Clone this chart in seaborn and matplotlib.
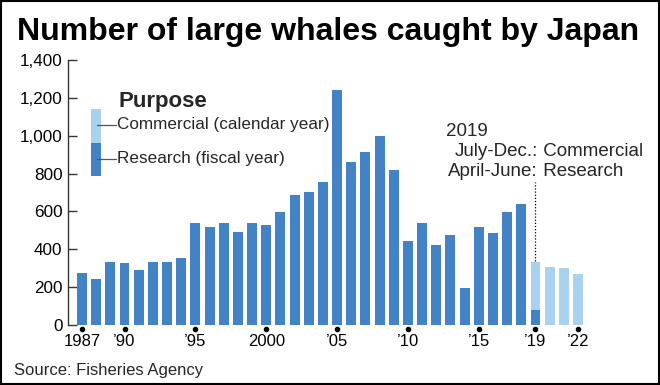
import matplotlib
matplotlib.use("Agg")
import matplotlib.pyplot as plt
from matplotlib import font_manager
from matplotlib.patches import Rectangle
import matplotlib.transforms as mtransforms
import numpy as np
import pandas as pd
import seaborn as sns

# ---- data ----
years = list(range(1987, 2023))
research = [275, 243, 331, 328, 289, 331, 331, 352, 541, 518, 539, 490, 539, 528,
            599, 685, 701, 754, 1240, 859, 912, 1000, 821, 446, 539, 423, 477, 197,
            520, 488, 597, 639, 81, 0, 0, 0]
commercial = [0] * 32 + [254, 308, 303, 271]
tick_years = [1987, 1990, 1995, 2000, 2005, 2010, 2015, 2019, 2022]
tick_labels = ["1987", "\u201990", "\u201995", "2000", "\u201905", "\u201910", "\u201915", "\u201919", "\u201922"]
y_ticks = [0, 200, 400, 600, 800, 1000, 1200, 1400]

dark = "#4482c6"
light = "#a8d2f0"

sns.set_theme(style="white")
names = {f.name for f in font_manager.fontManager.ttflist}
base = "Liberation Sans" if "Liberation Sans" in names else "DejaVu Sans"
plt.rcParams["font.family"] = [base, "DejaVu Sans"]

W, H = 660, 385
fig = plt.figure(figsize=(W / 100, H / 100), dpi=100)
fig.patch.set_facecolor("white")

def fx(px):
    return px / W

def fy(py):
    return 1 - py / H

ax_l, ax_r, ax_t, ax_b = 68, 600, 60, 325
ax = fig.add_axes([fx(ax_l), fy(ax_b), (ax_r - ax_l) / W, (ax_b - ax_t) / H])

df = pd.DataFrame({
    "year": [str(y) for y in years],
    "research": research,
    "total": [r + c for r, c in zip(research, commercial)],
})
sns.barplot(data=df, x="year", y="total", color=light, saturation=1, width=0.7,
            linewidth=0, edgecolor="none", ax=ax)
sns.barplot(data=df, x="year", y="research", color=dark, saturation=1, width=0.7,
            linewidth=0, edgecolor="none", ax=ax)

spacing = (578 - 82) / 35
xl = -(82 - ax_l) / spacing
ax.set_xlim(xl, xl + (ax_r - ax_l) / spacing)
ax.set_ylim(0, 1400)

for s in ["top", "right", "bottom"]:
    ax.spines[s].set_visible(False)
ax.spines["left"].set_color("#333333")
ax.spines["left"].set_linewidth(1.0)

ax.set_yticks(y_ticks)
ax.set_yticklabels([f"{v:,}" for v in y_ticks], fontsize=12.3, color="black")
ax.tick_params(axis="y", direction="in", length=6.5, width=1.0, color="#333333", pad=4, left=True)

pos = [years.index(y) for y in tick_years]
ax.set_xticks(pos)
ax.set_xticklabels(tick_labels, fontsize=12, color="black")
ax.tick_params(axis="x", length=0, pad=6.5)
ax.set_xlabel("")
ax.set_ylabel("")

trans = mtransforms.blended_transform_factory(ax.transData, ax.transAxes)
ax.scatter(pos, [-0.016] * len(pos), s=9, color="black", transform=trans, clip_on=False, zorder=5)

# dotted leader for 2019
i19 = years.index(2019)
ax.plot([i19, i19], [research[i19] + commercial[i19] + 5, 755], ls=(0, (1, 1.5)),
        color="black", lw=0.9, clip_on=False)

# title
fig.text(fx(328), fy(28.5), "Number of large whales caught by Japan", ha="center", va="center_baseline",
         fontsize=23, fontweight="bold", color="black")

# legend
fig.text(fx(118), fy(102), "Purpose", ha="left", va="center", fontsize=16, fontweight="bold")
fig.patches.append(Rectangle((fx(91), fy(143)), 10 / W, 34 / H, transform=fig.transFigure,
                             facecolor=light, edgecolor="none"))
fig.patches.append(Rectangle((fx(91), fy(176)), 10 / W, 33 / H, transform=fig.transFigure,
                             facecolor=dark, edgecolor="none"))
for yy, txt in [(125, "Commercial (calendar year)"), (159, "Research (fiscal year)")]:
    fig.add_artist(plt.Line2D([fx(97), fx(116)], [fy(yy), fy(yy)], color="#555555", lw=0.9,
                              transform=fig.transFigure))
    fig.text(fx(117), fy(yy), txt, ha="left", va="center", fontsize=12.3)

# annotation
fig.text(fx(446), fy(131), "2019", ha="left", va="center", fontsize=13.5)
fig.text(fx(538), fy(151), "July-Dec.:", ha="right", va="center", fontsize=13.5)
fig.text(fx(538), fy(151), " Commercial", ha="left", va="center", fontsize=13.5)
fig.text(fx(538), fy(171), "April-June:", ha="right", va="center", fontsize=13.5)
fig.text(fx(538), fy(171), " Research", ha="left", va="center", fontsize=13.5)

# source
fig.text(fx(14), fy(371), "Source: Fisheries Agency", ha="left", va="center", fontsize=12)

# frame
fig.patches.append(Rectangle((0.001, 0.002), 0.997, 0.995, transform=fig.transFigure,
                             fill=False, edgecolor="black", lw=1.5))

fig.savefig("out.png", dpi=100)
